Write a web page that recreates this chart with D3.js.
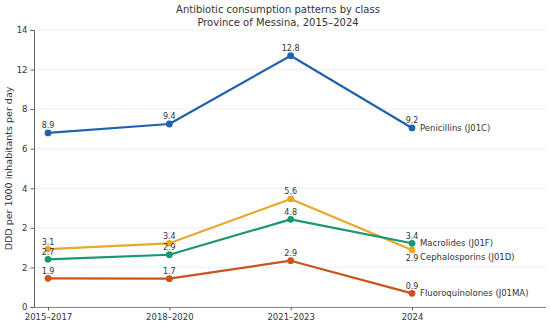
<!DOCTYPE html>
<html>
<head>
<meta charset="utf-8">
<script src="https://cdn.jsdelivr.net/npm/d3@7/dist/d3.min.js"></script>
<style>
  html, body { margin: 0; padding: 0; background: #fff; }
  svg { display: block; font-family: "DejaVu Sans", sans-serif; }
</style>
</head>
<body>
<div id="chart"></div>
<script>
// periods on the x axis
const periods = ["2015–2017", "2018–2020", "2021–2023", "2024"];

// series names
const seriesNames = [
    "Penicillins (J01C)",
    "Cephalosporins (J01D)",
    "Macrolides (J01F)",
    "Fluoroquinolones (J01MA)"
];

// plotted values
const penicillins = [8.8, 9.25, 12.7, 9.05];
const cephalosporins = [2.93, 3.22, 5.46, 2.88];
const macrolides = [2.41, 2.64, 4.43, 3.22];
const fluoroquinolones = [1.45, 1.43, 2.34, 0.69];

// annotation text printed next to each point
const penicillinsLabels = ["8.9", "9.4", "12.8", "9.2"];
const cephalosporinsLabels = ["3.1", "3.4", "5.6", "2.9"];
const macrolidesLabels = ["2.7", "2.9", "4.8", "3.4"];
const fluoroquinolonesLabels = ["1.9", "1.7", "2.9", "0.9"];

// y ticks and the text shown at them
const yTicks = [0, 2, 4, 6, 8, 10, 12, 14];
const yTickLabels = ["0", "2", "2", "4", "6", "8", "12", "14"];

const colors = ["#1f63ad", "#e6a92a", "#1a9673", "#c9541c"];

const series = [
    { name: seriesNames[0], values: penicillins, labels: penicillinsLabels },
    { name: seriesNames[1], values: cephalosporins, labels: cephalosporinsLabels },
    { name: seriesNames[2], values: macrolides, labels: macrolidesLabels },
    { name: seriesNames[3], values: fluoroquinolones, labels: fluoroquinolonesLabels }
];

const width = 550, height = 327;
const plot = { left: 34, right: 546, top: 30, bottom: 307 };

const svg = d3.select("#chart").append("svg")
    .attr("width", width)
    .attr("height", height);

svg.append("rect").attr("width", width).attr("height", height).attr("fill", "#fff");

const x = d3.scalePoint()
    .domain(periods)
    .range([48, 412]);

const y = d3.scaleLinear()
    .domain([0, 14])
    .range([plot.bottom, plot.top]);

// gridlines
svg.append("g")
    .selectAll("line")
    .data(yTicks)
    .join("line")
    .attr("x1", plot.left)
    .attr("x2", plot.right)
    .attr("y1", d => y(d))
    .attr("y2", d => y(d))
    .attr("stroke", "#ececec")
    .attr("stroke-width", 0.8);

// y axis
const yAxis = svg.append("g")
    .attr("transform", `translate(${plot.left},0)`)
    .call(d3.axisLeft(y)
        .tickValues(yTicks)
        .tickFormat((d, i) => yTickLabels[i])
        .tickSize(3.5)
        .tickPadding(3));
yAxis.select(".domain").attr("stroke", "#555").attr("stroke-width", 0.9);
yAxis.selectAll(".tick line").attr("stroke", "#555").attr("stroke-width", 0.9);
yAxis.selectAll(".tick text")
    .attr("fill", "#333")
    .style("font-size", "8.5px")
    .style("font-family", "DejaVu Sans");

// x axis
const xAxis = svg.append("g")
    .attr("transform", `translate(0,${plot.bottom})`)
    .call(d3.axisBottom(x).tickSize(3.5).tickPadding(3).tickSizeOuter(0));
xAxis.select(".domain")
    .attr("d", `M${plot.left},0.5H${plot.right}`)
    .attr("stroke", "#888")
    .attr("stroke-width", 1.1);
xAxis.selectAll(".tick line").attr("stroke", "#555").attr("stroke-width", 0.9);
xAxis.selectAll(".tick text")
    .attr("fill", "#333")
    .style("font-size", "8.5px")
    .style("font-family", "DejaVu Sans");

// lines
const line = d3.line()
    .x((d, i) => x(periods[i]))
    .y(d => y(d));

const groups = svg.append("g")
    .selectAll("g.series")
    .data(series)
    .join("g")
    .attr("class", "series");

groups.append("path")
    .attr("d", d => line(d.values))
    .attr("fill", "none")
    .attr("stroke", (d, i) => colors[i])
    .attr("stroke-width", 2.2)
    .attr("stroke-linejoin", "round");

groups.selectAll("circle")
    .data((d, si) => d.values.map((v, i) => ({ v, i, si })))
    .join("circle")
    .attr("cx", d => x(periods[d.i]))
    .attr("cy", d => y(d.v))
    .attr("r", 3.4)
    .attr("fill", d => colors[d.si]);

// value labels (cephalosporins in 2024 sits below its point)
groups.selectAll("text.val")
    .data((d, si) => d.values.map((v, i) => ({ v, i, si, t: d.labels[i] })))
    .join("text")
    .attr("class", "val")
    .attr("x", d => x(periods[d.i]))
    .attr("y", d => (d.si === 1 && d.i === 3) ? y(d.v) + 10.5 : y(d.v) - 4.5)
    .attr("text-anchor", "middle")
    .attr("fill", "#333")
    .style("font-size", "8px")
    .text(d => d.t);

// series names at the end of each line
const nameNudge = [0, 7, 0, 0];
groups.append("text")
    .attr("x", d => x(periods[periods.length - 1]) + 8)
    .attr("y", (d, i) => y(d.values[d.values.length - 1]) + nameNudge[i])
    .attr("dy", "0.35em")
    .attr("fill", "#333")
    .style("font-size", "8.5px")
    .text(d => d.name);

// y axis title
svg.append("text")
    .attr("transform", `translate(9,${(plot.top + plot.bottom) / 2}) rotate(-90)`)
    .attr("text-anchor", "middle")
    .attr("dy", "0.35em")
    .attr("fill", "#333")
    .style("font-size", "9.5px")
    .text("DDD per 1000 inhabitants per day");

// title
const title = svg.append("text")
    .attr("x", 278)
    .attr("text-anchor", "middle")
    .attr("fill", "#333")
    .style("font-size", "10px");
title.append("tspan").attr("x", 278).attr("y", 12.5).text("Antibiotic consumption patterns by class");
title.append("tspan").attr("x", 278).attr("y", 25.8).text("Province of Messina, 2015–2024");
</script>
</body>
</html>
